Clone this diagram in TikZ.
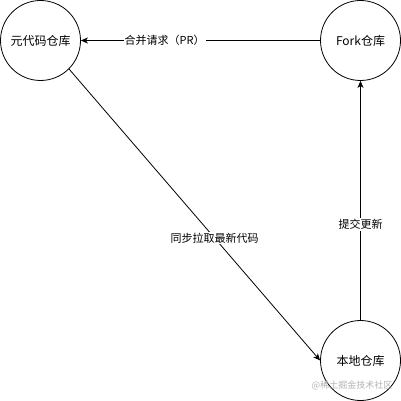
\documentclass[tikz,border=0pt]{standalone}
\usepackage{fontspec}
\setmainfont{Noto Sans CJK SC}
\usetikzlibrary{arrows.meta}
\begin{document}
\begin{tikzpicture}[x=1pt,y=-1pt,
  repo/.style={draw, circle, minimum size=80pt, inner sep=0pt, line width=0.8pt, font=\fontsize{12}{14}\selectfont},
  conn/.style={line width=0.8pt, -{Stealth[length=7pt,width=6pt,inset=2pt]}},
  lbl/.style={fill=white, inner sep=1pt, font=\fontsize{11}{13}\selectfont}]
\useasboundingbox (0,0) rectangle (401,401);
\node[repo] (src) at (40.5,40.5) {元代码仓库};
\node[repo] (fork) at (360.5,40.5) {Fork仓库};
\node[repo] (local) at (360.5,360.5) {本地仓库};
\draw[conn] (fork) -- node[lbl, pos=0.65] {合并请求（PR）} (src);
\draw[conn] (src.south east) -- node[lbl, pos=0.58] {同步拉取最新代码} (local.west);
\draw[conn] (local) -- node[lbl, pos=0.40] {提交更新} (fork);
\node[text=black!30, font=\fontsize{9}{10}\selectfont] (wm) at (352,385) {@稀土掘金技术社区};
\end{tikzpicture}
\end{document}
